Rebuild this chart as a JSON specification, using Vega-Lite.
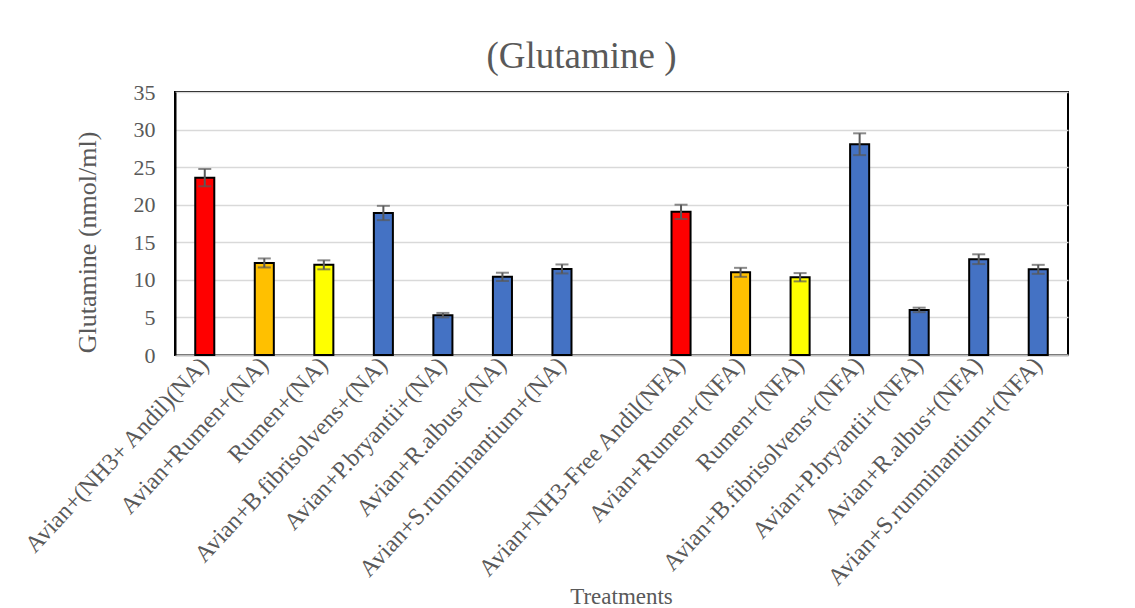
{
  "$schema": "https://vega.github.io/schema/vega-lite/v6.json",
  "width": 893,
  "height": 263,
  "autosize": {"type": "none"},
  "padding": {"left": 175, "top": 92, "right": 67, "bottom": 253},
  "background": "white",
  "title": {
    "text": "(Glutamine )",
    "font": "Liberation Serif",
    "fontSize": 37,
    "fontWeight": "normal",
    "color": "#595959",
    "anchor": "middle",
    "dx": -40,
    "offset": 5
  },
  "config": {
    "view": {"stroke": "black", "strokeWidth": 2},
    "axis": {"labelFont": "Liberation Serif", "titleFont": "Liberation Serif", "labelColor": "#595959", "titleColor": "#595959", "titleFontWeight": "normal"}
  },
  "data": {
    "values": [
      {"t": "Avian+(NH3+ Andil)(NA)", "v": 23.6, "lo": 22.45, "hi": 24.75, "g": "red"},
      {"t": "Avian+Rumen+(NA)", "v": 12.25, "lo": 11.65, "hi": 12.85, "g": "orange"},
      {"t": "Rumen+(NA)", "v": 12.0, "lo": 11.4, "hi": 12.6, "g": "yellow"},
      {"t": "Avian+B.fibrisolvens+(NA)", "v": 18.9, "lo": 17.95, "hi": 19.85, "g": "blue"},
      {"t": "Avian+P.bryantii+(NA)", "v": 5.3, "lo": 5.0, "hi": 5.6, "g": "blue"},
      {"t": "Avian+R.albus+(NA)", "v": 10.4, "lo": 9.85, "hi": 10.95, "g": "blue"},
      {"t": "Avian+S.runminantium+(NA)", "v": 11.45, "lo": 10.85, "hi": 12.05, "g": "blue"},
      {"t": "Avian+NH3-Free Andil(NFA)", "v": 19.05, "lo": 18.1, "hi": 20.0, "g": "red"},
      {"t": "Avian+Rumen+(NFA)", "v": 11.0, "lo": 10.4, "hi": 11.6, "g": "orange"},
      {"t": "Rumen+(NFA)", "v": 10.35, "lo": 9.8, "hi": 10.9, "g": "yellow"},
      {"t": "Avian+B.fibrisolvens+(NFA)", "v": 28.05, "lo": 26.6, "hi": 29.5, "g": "blue"},
      {"t": "Avian+P.bryantii+(NFA)", "v": 6.0, "lo": 5.7, "hi": 6.3, "g": "blue"},
      {"t": "Avian+R.albus+(NFA)", "v": 12.75, "lo": 12.1, "hi": 13.4, "g": "blue"},
      {"t": "Avian+S.runminantium+(NFA)", "v": 11.4, "lo": 10.8, "hi": 12.0, "g": "blue"}
    ]
  },
  "encoding": {
    "x": {
      "field": "t",
      "type": "nominal",
      "title": "Treatments",
      "scale": {
        "domain": ["Avian+(NH3+ Andil)(NA)", "Avian+Rumen+(NA)", "Rumen+(NA)", "Avian+B.fibrisolvens+(NA)", "Avian+P.bryantii+(NA)", "Avian+R.albus+(NA)", "Avian+S.runminantium+(NA)", " ", "Avian+NH3-Free Andil(NFA)", "Avian+Rumen+(NFA)", "Rumen+(NFA)", "Avian+B.fibrisolvens+(NFA)", "Avian+P.bryantii+(NFA)", "Avian+R.albus+(NFA)", "Avian+S.runminantium+(NFA)"],
        "paddingInner": 0.68,
        "paddingOuter": 0.34
      },
      "axis": {
        "labelAngle": -47,
        "labelAlign": "right",
        "labelBaseline": "middle",
        "labelFontSize": 24,
        "labelPadding": 6,
        "labelLimit": 0,
        "labelOverlap": false,
        "ticks": false,
        "domainColor": "#BFBFBF",
        "domainWidth": 2,
        "titleFontSize": 23,
        "titleY": 248,
        "titleBaseline": "alphabetic",
        "titleX": 446,
        "titleAlign": "center"
      }
    }
  },
  "layer": [
    {
      "mark": {"type": "bar", "stroke": "black", "strokeWidth": 2},
      "encoding": {
        "y": {
          "field": "v",
          "type": "quantitative",
          "title": "Glutamine  (nmol/ml)",
          "scale": {"domain": [0, 35], "nice": false},
          "axis": {
            "values": [0, 5, 10, 15, 20, 25, 30, 35],
            "labelOverlap": false,
            "labelFontSize": 22,
            "labelPadding": 20,
            "ticks": false,
            "domainColor": "black",
            "domainWidth": 2,
            "gridColor": "#D9D9D9",
            "gridWidth": 1.5,
            "titleFontSize": 26,
            "titleAngle": -90,
            "titleX": -88,
            "titleY": 150,
            "titleAlign": "center",
            "titleBaseline": "middle"
          }
        },
        "color": {
          "field": "g",
          "type": "nominal",
          "scale": {"domain": ["red", "orange", "yellow", "blue"], "range": ["#FF0000", "#FFC000", "#FFFF00", "#4472C4"]},
          "legend": null
        }
      }
    },
    {
      "mark": {"type": "rule", "color": "#595959", "strokeWidth": 2},
      "encoding": {
        "y": {
          "field": "lo",
          "type": "quantitative",
          "title": "Glutamine  (nmol/ml)",
          "axis": {
            "values": [0, 5, 10, 15, 20, 25, 30, 35],
            "labelOverlap": false,
            "labelFontSize": 22,
            "labelPadding": 20,
            "ticks": false,
            "domainColor": "black",
            "domainWidth": 2,
            "gridColor": "#D9D9D9",
            "gridWidth": 1.5,
            "titleFontSize": 26,
            "titleAngle": -90,
            "titleX": -88,
            "titleY": 150,
            "titleAlign": "center",
            "titleBaseline": "middle"
          }
        },
        "y2": {"field": "hi"}
      }
    },
    {
      "mark": {"type": "tick", "color": "#595959", "thickness": 2, "size": 13, "orient": "horizontal"},
      "encoding": {
        "y": {
          "field": "lo",
          "type": "quantitative",
          "title": "Glutamine  (nmol/ml)",
          "axis": {
            "values": [0, 5, 10, 15, 20, 25, 30, 35],
            "labelOverlap": false,
            "labelFontSize": 22,
            "labelPadding": 20,
            "ticks": false,
            "domainColor": "black",
            "domainWidth": 2,
            "gridColor": "#D9D9D9",
            "gridWidth": 1.5,
            "titleFontSize": 26,
            "titleAngle": -90,
            "titleX": -88,
            "titleY": 150,
            "titleAlign": "center",
            "titleBaseline": "middle"
          }
        }
      }
    },
    {
      "mark": {"type": "tick", "color": "#595959", "thickness": 2, "size": 13, "orient": "horizontal"},
      "encoding": {
        "y": {
          "field": "hi",
          "type": "quantitative",
          "title": "Glutamine  (nmol/ml)",
          "axis": {
            "values": [0, 5, 10, 15, 20, 25, 30, 35],
            "labelOverlap": false,
            "labelFontSize": 22,
            "labelPadding": 20,
            "ticks": false,
            "domainColor": "black",
            "domainWidth": 2,
            "gridColor": "#D9D9D9",
            "gridWidth": 1.5,
            "titleFontSize": 26,
            "titleAngle": -90,
            "titleX": -88,
            "titleY": 150,
            "titleAlign": "center",
            "titleBaseline": "middle"
          }
        }
      }
    }
  ]
}
